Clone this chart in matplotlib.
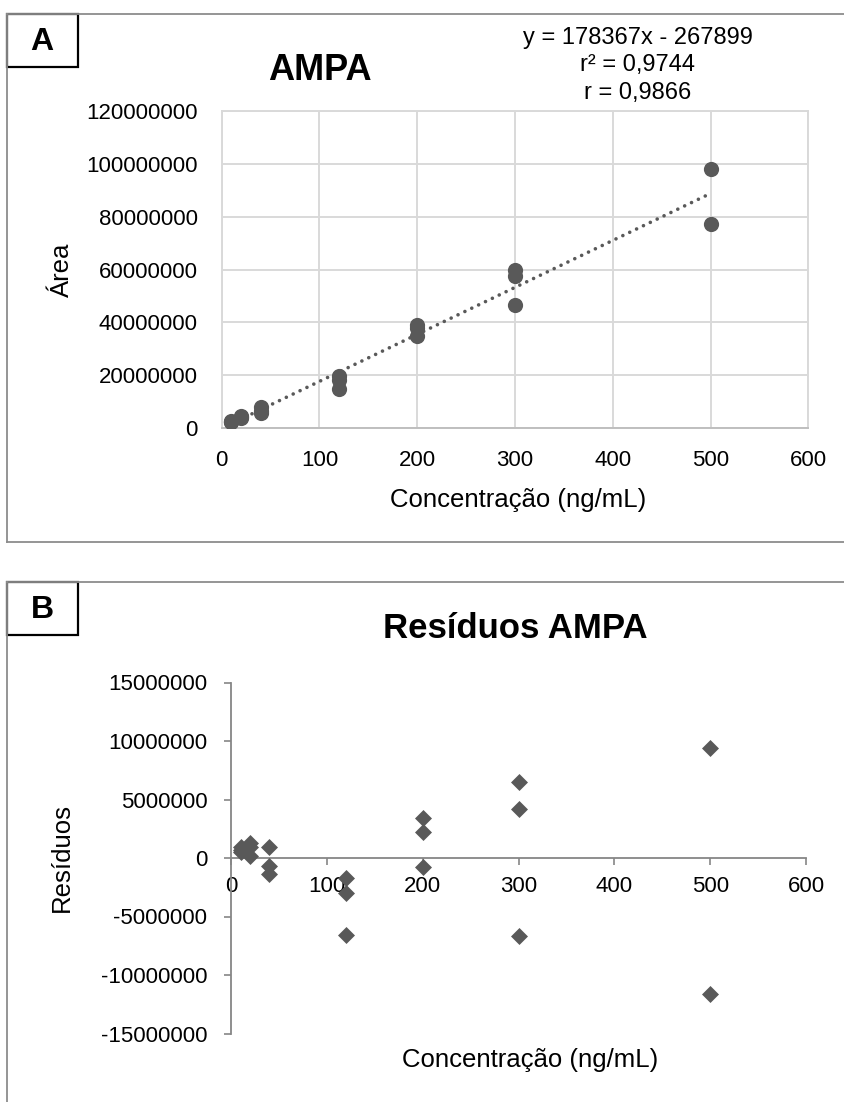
import numpy as np
import matplotlib.pyplot as plt
from matplotlib.patches import Rectangle
from matplotlib.lines import Line2D

plt.rcParams['font.family'] = ['Liberation Sans', 'DejaVu Sans']

# calibration data (ng/mL, peak area)
conc = np.array([10, 10, 10, 20, 20, 20, 40, 40, 40,
                 120, 120, 120, 200, 200, 200, 300, 300, 300, 500, 500])
area = np.array([2.42e6, 2.02e6, 2.22e6, 4.60e6, 4.20e6, 3.50e6,
                 7.82e6, 6.17e6, 5.47e6, 19.44e6, 18.14e6, 14.54e6,
                 38.85e6, 37.65e6, 34.63e6, 59.70e6, 57.40e6, 46.60e6,
                 98.32e6, 77.32e6])

# linear fit shown on the chart
slope = 178367
intercept = -267899
eq_lines = ["y = 178367x - 267899", "r² = 0,9744", "r = 0,9866"]

# residuals = observed - fitted
residuos = area - (slope * conc + intercept)

xticks = [0, 100, 200, 300, 400, 500, 600]
yticks_a = [0, 20000000, 40000000, 60000000, 80000000, 100000000, 120000000]
yticks_b = [-15000000, -10000000, -5000000, 0, 5000000, 10000000, 15000000]

W, H = 845, 1102
gray = '#595959'

fig = plt.figure(figsize=(W / 100, H / 100), dpi=100)


def fx(px):
    return px / W


def fy(py):
    return 1 - py / H


def panel_frame(top, bottom, letter):
    # outer frame of the panel (open on the right side)
    fig.add_artist(Line2D([fx(7), 1.0], [fy(top), fy(top)], color='#8c8c8c', lw=1.3))
    fig.add_artist(Line2D([fx(7), fx(7)], [fy(top), fy(bottom)], color='#8c8c8c', lw=1.3))
    if bottom < H:
        fig.add_artist(Line2D([fx(7), 1.0], [fy(bottom), fy(bottom)], color='#8c8c8c', lw=1.3))
    # letter box
    fig.add_artist(Rectangle((fx(7), fy(top + 53)), fx(71), 53 / H, fill=False,
                             edgecolor='black', lw=1.6, transform=fig.transFigure))
    fig.text(fx(42), fy(top + 28), letter, ha='center', va='center',
             fontsize=23, fontweight='bold')


# ---------- Panel A ----------
panel_frame(14, 542, 'A')

axA = fig.add_axes([fx(221.6), fy(427.7), 586.8 / W, 316.2 / H])
axA.set_xlim(0, 600)
axA.set_ylim(0, 120000000)
axA.set_xticks(xticks)
axA.set_yticks(yticks_a)
axA.set_xticklabels([str(v) for v in xticks])
axA.set_yticklabels([str(v) for v in yticks_a])
axA.grid(True, color='#d9d9d9', lw=1.4)
axA.set_axisbelow(True)
for s in ['top', 'right', 'left']:
    axA.spines[s].set_color('#d9d9d9')
    axA.spines[s].set_linewidth(1.4)
axA.spines['bottom'].set_color('#bfbfbf')
axA.spines['bottom'].set_linewidth(1.4)
axA.tick_params(length=0, labelsize=16)
axA.tick_params(axis='x', pad=16)
axA.tick_params(axis='y', pad=17)

xs = np.array([conc.min(), conc.max()])
axA.plot(xs, slope * xs + intercept, color=gray, lw=2.6,
         linestyle=(0, (0.01, 2.1)), dash_capstyle='round', zorder=2)
axA.scatter(conc, area, s=120, color=gray, zorder=3, linewidths=0)

fig.text(fx(320), fy(70), 'AMPA', ha='center', va='center', fontsize=26, fontweight='bold')
for i, line in enumerate(eq_lines):
    fig.text(fx(638), fy(38 + 27.5 * i), line, ha='center', va='center', fontsize=17)
fig.text(fx(62), fy(270), 'Área', ha='center', va='center', rotation=90, fontsize=18.5)
fig.text(fx(518), fy(500), 'Concentração (ng/mL)', ha='center', va='center', fontsize=18.5)

# ---------- Panel B ----------
panel_frame(582, H + 5, 'B')

axB = fig.add_axes([fx(231), fy(1033.5), 575 / W, 351 / H])
axB.set_xlim(0, 600)
axB.set_ylim(-15000000, 15000000)
axB.set_xticks(xticks)
axB.set_yticks(yticks_b)
axB.set_xticklabels([str(v) for v in xticks])
axB.set_yticklabels([str(v) for v in yticks_b])
axB.spines['top'].set_visible(False)
axB.spines['right'].set_visible(False)
axB.spines['bottom'].set_position(('data', 0))
for s in ['left', 'bottom']:
    axB.spines[s].set_color('#868686')
    axB.spines[s].set_linewidth(1.3)
axB.tick_params(direction='out', length=5, width=1.2, color='#868686', labelsize=16)
axB.tick_params(axis='x', pad=8)
axB.tick_params(axis='y', pad=12)

axB.scatter(conc, residuos, marker='D', s=75, color=gray, zorder=3, linewidths=0)

fig.text(fx(515), fy(628), 'Resíduos AMPA', ha='center', va='center', fontsize=25, fontweight='bold')
fig.text(fx(62), fy(858), 'Resíduos', ha='center', va='center', rotation=90, fontsize=18.5)
fig.text(fx(530), fy(1060), 'Concentração (ng/mL)', ha='center', va='center', fontsize=18.5)

fig.savefig('out.png', dpi=100)
